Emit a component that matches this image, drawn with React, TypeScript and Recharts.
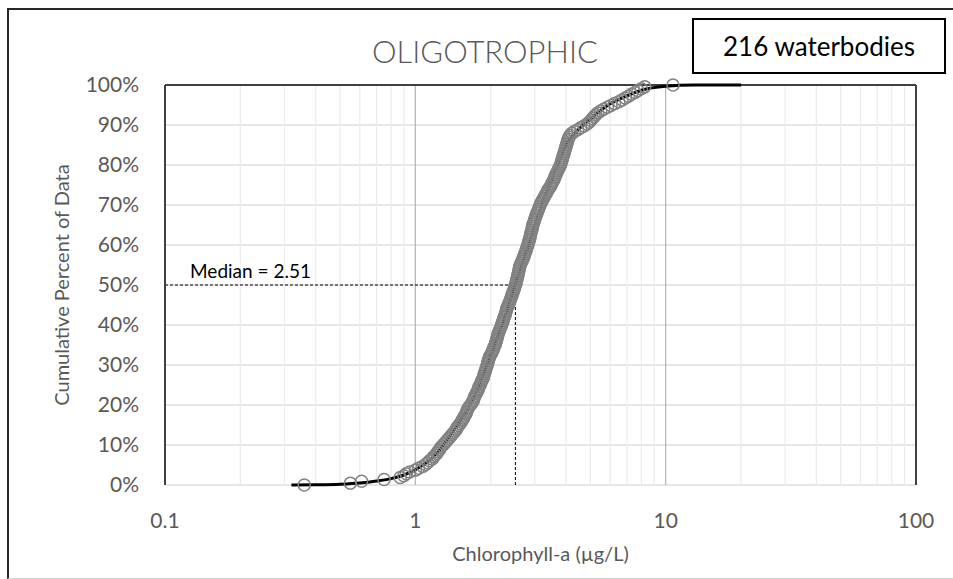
import React from 'react'
import {
  ComposedChart,
  Line,
  Scatter,
  XAxis,
  YAxis,
  CartesianGrid,
  ReferenceLine,
} from 'recharts'

const FONT = 'Lato, "Open Sans", sans-serif'
const GREY_TEXT = '#595959'

// chlorophyll-a per waterbody (µg/L), sorted
const chlorophyll = [
  0.36, 0.55, 0.61, 0.75, 0.87, 0.9, 0.92, 0.95, 1.0, 1.03,
  1.07, 1.1, 1.12, 1.14, 1.17, 1.18, 1.2, 1.22, 1.23, 1.25,
  1.26, 1.28, 1.3, 1.32, 1.34, 1.36, 1.38, 1.4, 1.42, 1.44,
  1.46, 1.47, 1.49, 1.51, 1.53, 1.54, 1.56, 1.57, 1.59, 1.6,
  1.61, 1.62, 1.64, 1.66, 1.68, 1.7, 1.71, 1.72, 1.73, 1.75,
  1.76, 1.78, 1.79, 1.8, 1.82, 1.83, 1.84, 1.86, 1.87, 1.88,
  1.89, 1.9, 1.91, 1.92, 1.93, 1.94, 1.95, 1.96, 1.97, 1.98,
  2.0, 2.02, 2.03, 2.05, 2.06, 2.08, 2.09, 2.1, 2.11, 2.12,
  2.13, 2.14, 2.15, 2.17, 2.18, 2.2, 2.21, 2.22, 2.24, 2.25,
  2.26, 2.28, 2.29, 2.3, 2.31, 2.32, 2.34, 2.36, 2.37, 2.39,
  2.4, 2.42, 2.43, 2.45, 2.46, 2.48, 2.49, 2.5, 2.52, 2.53,
  2.54, 2.55, 2.56, 2.57, 2.58, 2.59, 2.6, 2.61, 2.62, 2.64,
  2.66, 2.68, 2.7, 2.72, 2.73, 2.75, 2.77, 2.78, 2.8, 2.81,
  2.83, 2.84, 2.86, 2.87, 2.88, 2.89, 2.9, 2.92, 2.93, 2.94,
  2.95, 2.97, 2.99, 3.0, 3.02, 3.04, 3.06, 3.08, 3.1, 3.12,
  3.14, 3.16, 3.19, 3.22, 3.25, 3.28, 3.31, 3.34, 3.37, 3.4,
  3.45, 3.48, 3.51, 3.54, 3.57, 3.6, 3.62, 3.65, 3.68, 3.71,
  3.74, 3.77, 3.8, 3.82, 3.84, 3.86, 3.88, 3.9, 3.92, 3.94,
  3.96, 3.98, 4.0, 4.02, 4.04, 4.06, 4.08, 4.11, 4.15, 4.22,
  4.32, 4.45, 4.58, 4.72, 4.85, 4.95, 5.03, 5.1, 5.18, 5.26,
  5.35, 5.5, 5.65, 5.85, 6.05, 6.25, 6.5, 6.7, 6.9, 7.1,
  7.3, 7.55, 7.75, 8.0, 8.25, 10.7,
]

// fitted curve (black line)
const fitChl = [0.32, 0.4, 0.5, 0.6, 0.7, 0.8, 0.9, 1.0, 1.2, 1.4, 1.6, 1.8, 2.0, 2.25, 2.5, 2.8, 3.2, 3.6, 4.0, 4.5, 5.0, 6.0, 7.0, 8.0, 10, 13, 16, 20]
const fitPct = [0, 0.05, 0.2, 0.5, 1.0, 1.6, 2.5, 3.8, 7.5, 13, 18.5, 25, 32.5, 41, 50, 59, 70, 78, 85, 89, 91.5, 95.3, 97.3, 98.7, 99.7, 100, 100, 100]

const median = 2.51
const xTicks = [0.1, 1, 10, 100]
const majorX = [1, 10]
const minorX = [0.2, 0.3, 0.4, 0.5, 0.6, 0.7, 0.8, 0.9, 2, 3, 4, 5, 6, 7, 8, 9, 20, 30, 40, 50, 60, 70, 80, 90]
const yTicks = [0, 10, 20, 30, 40, 50, 60, 70, 80, 90, 100]

// cumulative percent = rank / (n - 1)
const points = chlorophyll.map((c, i) => ({ chl: c, pct: (i / (chlorophyll.length - 1)) * 100 }))
const fitLine = fitChl.map((c, i) => ({ chl: c, pct: fitPct[i] }))

const Ring = (props: any) => {
  if (props.cx == null || props.cy == null) return null
  return <circle cx={props.cx} cy={props.cy} r={6} fill="none" stroke="#828282" strokeWidth={1.5} />
}

const tickStyle = { fontSize: 21, fill: GREY_TEXT, fontFamily: FONT }

export default function App() {
  return (
    <div style={{ position: 'absolute', left: 0, top: 0, width: 953, height: 579, background: '#fff', overflow: 'hidden', fontFamily: FONT }}>
      {/* outer frame */}
      <div style={{
        position: 'absolute', left: 7, top: 8, width: 960, height: 568,
        borderLeft: '2px solid #262626', borderTop: '2px solid #262626', borderBottom: '1px solid #d4d4d4',
      }} />

      <div style={{ position: 'absolute', left: 0, top: 0 }}>
        <ComposedChart width={953} height={579} margin={{ top: 85, right: 37, bottom: 14, left: 45 }}>
          <CartesianGrid vertical={false} stroke="#d0d0d0" strokeWidth={1.2} />
          {minorX.map(v => (
            <ReferenceLine key={`mn${v}`} x={v} stroke="#ebebeb" strokeWidth={1.2} />
          ))}
          {majorX.map(v => (
            <ReferenceLine key={`mj${v}`} x={v} stroke="#b4b4b4" strokeWidth={1.2} />
          ))}
          <ReferenceLine y={100} stroke="#404040" strokeWidth={2} />
          <ReferenceLine x={100} stroke="#404040" strokeWidth={2} />

          <XAxis
            type="number"
            dataKey="chl"
            scale="log"
            domain={[0.1, 100]}
            ticks={xTicks}
            allowDataOverflow
            tickFormatter={v => String(v)}
            tick={tickStyle}
            tickLine={false}
            axisLine={false}
            tickSize={0}
            tickMargin={28}
            height={80}
            label={{ value: 'Chlorophyll-a (µg/L)', position: 'insideBottom', offset: 4, style: { fontSize: 20, fill: GREY_TEXT, fontFamily: FONT } }}
          />
          <YAxis
            type="number"
            dataKey="pct"
            domain={[0, 100]}
            ticks={yTicks}
            tickFormatter={v => `${v}%`}
            tick={tickStyle}
            tickLine={false}
            axisLine={{ stroke: '#404040', strokeWidth: 2 }}
            tickSize={0}
            tickMargin={26}
            width={120}
            label={{ value: 'Cumulative Percent of Data', angle: -90, position: 'insideLeft', offset: 17, style: { textAnchor: 'middle', fontSize: 20, fill: GREY_TEXT, fontFamily: FONT } }}
          />

          <ReferenceLine segment={[{ x: 0.1, y: 50 }, { x: median, y: 50 }]} stroke="#000" strokeDasharray="3 2" strokeWidth={1} />
          <ReferenceLine segment={[{ x: median, y: 0 }, { x: median, y: 50 }]} stroke="#000" strokeDasharray="3 2" strokeWidth={1} />

          <Line
            data={fitLine}
            dataKey="pct"
            type="monotone"
            stroke="#000"
            strokeWidth={3}
            dot={false}
            activeDot={false}
            isAnimationActive={false}
          />
          <Scatter data={points} dataKey="pct" shape={<Ring />} isAnimationActive={false} />
        </ComposedChart>
      </div>

      {/* title */}
      <div style={{ position: 'absolute', left: 285, width: 400, top: 32, textAlign: 'center', fontSize: 31, color: GREY_TEXT, lineHeight: '38px', fontWeight: 300 }}>
        OLIGOTROPHIC
      </div>

      {/* median annotation */}
      <div style={{ position: 'absolute', left: 190, top: 259, fontSize: 19, color: '#000', lineHeight: '24px' }}>
        Median = {median}
      </div>

      {/* sample-size box */}
      <div style={{
        position: 'absolute', left: 692, top: 18, width: 250, height: 52,
        border: '2px solid #000', boxSizing: 'content-box', display: 'flex', alignItems: 'center', justifyContent: 'center',
        fontSize: 26, color: '#000',
      }}>
        216 waterbodies
      </div>
    </div>
  )
}
